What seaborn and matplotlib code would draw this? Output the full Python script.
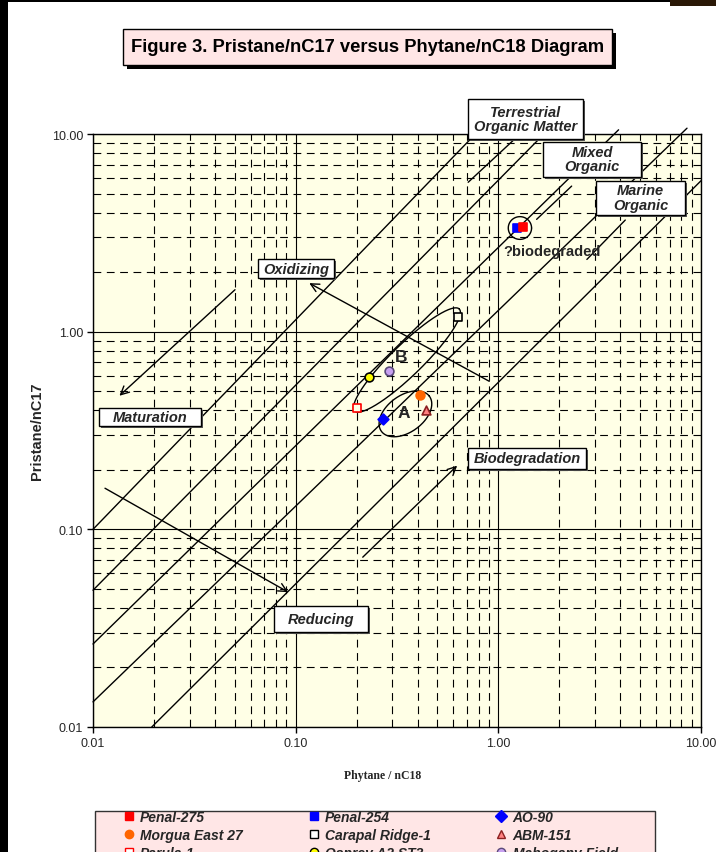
import numpy as np
import pandas as pd
import matplotlib
matplotlib.use('Agg')
import matplotlib.pyplot as plt
from matplotlib.lines import Line2D
from matplotlib.patches import Rectangle
from matplotlib.ticker import LogLocator, FormatStrFormatter, NullFormatter
import seaborn as sns

sns.set_style('white')
plt.rcParams['font.family'] = ['Liberation Sans', 'DejaVu Sans']

BG = '#FFFFE6'
PINK = '#FFE6E6'
W, H = 716, 853

# samples
samples = ['Penal-254', 'Penal-275', 'AO-90', 'Morgua East 27', 'Carapal Ridge-1',
           'ABM-151', 'Parula-1', 'Osprey A2 ST3', 'Mahogany Field']
phytane_nc18 = [1.24, 1.33, 0.27, 0.41, 0.63, 0.44, 0.20, 0.23, 0.29]
pristane_nc17 = [3.35, 3.40, 0.36, 0.48, 1.18, 0.40, 0.41, 0.59, 0.63]
sample_marker = ['s', 's', 'D', 'o', 's', '^', 's', 'o', 'o']
sample_face = ['#0000FF', '#FF0000', '#0000FF', '#FF6600', BG, '#FF8080', BG, '#FFFF00', '#C8A0F0']
sample_edge = ['#0000FF', '#FF0000', '#0000FF', '#FF6600', '#000000', '#8B2020', '#FF0000', '#000000', '#5A4A7A']
legend_order = ['Penal-275', 'Morgua East 27', 'Parula-1',
                'Penal-254', 'Carapal Ridge-1', 'Osprey A2 ST3',
                'AO-90', 'ABM-151', 'Mahogany Field']

# organic-matter boundary lines (start / end in data units)
line_x0 = [0.01, 0.01, 0.01, 0.01, 0.0195, 0.71, 1.545, 2.735]
line_y0 = [0.10, 0.0492, 0.0263, 0.0134, 0.01, 5.7, 3.70, 2.32]
line_x1 = [0.738, 1.607, 3.92, 8.53, 10.0, 1.18, 2.30, 4.23]
line_y1 = [9.55, 9.55, 10.5, 10.7, 5.8, 9.25, 5.45, 3.67]

# process arrows
arrow_x0 = [0.0502, 0.902, 0.01146, 0.2143]
arrow_y0 = [1.63, 0.561, 0.1614, 0.0723]
arrow_x1 = [0.0135, 0.1167, 0.0919, 0.626]
arrow_y1 = [0.474, 1.76, 0.0481, 0.21]

# boxed labels
box_labels = ['Terrestrial\nOrganic Matter', 'Mixed\nOrganic', 'Marine\nOrganic',
              'Oxidizing', 'Maturation', 'Reducing', 'Biodegradation']
box_x = [1.36, 2.91, 5.04, 0.1003, 0.0192, 0.1337, 1.39]
box_y = [11.9, 7.47, 4.77, 2.08, 0.372, 0.035, 0.2286]
box_size = [(115, 40), (98, 35), (89, 34), (76, 19), (102, 18), (94, 26), (118, 21)]

# groupings (centre in data units, semi-axes in decades, tilt in degrees)
group_x = [0.354, 0.348, 1.278]
group_y = [0.719, 0.384, 3.345]
group_a = [0.365, 0.148, 0.0575]
group_b = [0.0775, 0.092, 0.0575]
group_angle = [45, 37.6, 0]

fig = plt.figure(figsize=(W / 100, H / 100), dpi=100)
fig.patch.set_facecolor('white')
ax = fig.add_axes([93 / W, 1 - 728 / H, 608 / W, 593 / H])
ax.set_facecolor(BG)
ax.set_xscale('log')
ax.set_yscale('log')
ax.set_xlim(0.01, 10)
ax.set_ylim(0.01, 10)

ax.xaxis.set_minor_locator(LogLocator(base=10, subs=np.arange(2, 10)))
ax.yaxis.set_minor_locator(LogLocator(base=10, subs=np.arange(2, 10)))
ax.xaxis.set_major_formatter(FormatStrFormatter('%.2f'))
ax.yaxis.set_major_formatter(FormatStrFormatter('%.2f'))
ax.xaxis.set_minor_formatter(NullFormatter())
ax.yaxis.set_minor_formatter(NullFormatter())
ax.grid(which='major', color='black', lw=0.8, ls='-')
ax.grid(which='minor', color='black', lw=0.8, ls=(0, (7, 5)))
ax.set_axisbelow(True)
ax.tick_params(which='major', direction='out', length=4, width=1, color='black',
               labelsize=9, pad=3, left=True, bottom=True)
ax.tick_params(which='minor', length=0)
for s in ax.spines.values():
    s.set_color('black')
    s.set_linewidth(1)

# boundary lines
lines_df = pd.DataFrame({
    'line': np.repeat(np.arange(len(line_x0)), 2),
    'x': np.ravel(np.column_stack([line_x0, line_x1])),
    'y': np.ravel(np.column_stack([line_y0, line_y1])),
})
sns.lineplot(data=lines_df, x='x', y='y', units='line', estimator=None,
             color='black', lw=1, legend=False, ax=ax)
for ln in ax.lines:
    ln.set_clip_on(False)

# arrows
for x0, y0, x1, y1 in zip(arrow_x0, arrow_y0, arrow_x1, arrow_y1):
    ax.annotate('', xy=(x1, y1), xytext=(x0, y0),
                arrowprops=dict(arrowstyle='->', lw=1, color='black',
                                mutation_scale=15, shrinkA=0, shrinkB=0))

# group outlines
t = np.linspace(0, 2 * np.pi, 200)
for cx, cy, a, b, ang in zip(group_x, group_y, group_a, group_b, group_angle):
    th = np.deg2rad(ang)
    u, v = a * np.cos(t), b * np.sin(t)
    lx = np.log10(cx) + u * np.cos(th) - v * np.sin(th)
    ly = np.log10(cy) + u * np.sin(th) + v * np.cos(th)
    ax.plot(10 ** lx, 10 ** ly, color='black', lw=1)

# samples
pts = pd.DataFrame({'sample': samples, 'x': phytane_nc18, 'y': pristane_nc17})
for i, row in pts.iterrows():
    sns.scatterplot(x=[row['x']], y=[row['y']], marker=sample_marker[i],
                    color=sample_face[i], edgecolor=sample_edge[i],
                    linewidth=1.2, s=40 if sample_marker[i] != 'D' else 30,
                    zorder=5, ax=ax, legend=False)

ax.text(0.34, 0.391, 'A', fontsize=12.5, fontweight='bold', ha='center', va='center', zorder=6)
ax.text(0.333, 0.751, 'B', fontsize=12.5, fontweight='bold', ha='center', va='center', zorder=6)
ax.text(1.83, 2.57, '?biodegraded', fontsize=10.5, fontweight='bold', ha='center', va='center', zorder=6)


def boxed(cx, cy, w, h, fc, shadow, off):
    fig.patches.append(Rectangle(((cx - w / 2 + off) / W, (cy - h / 2 - off) / H), w / W, h / H,
                                 transform=fig.transFigure, fc=shadow, ec='none', zorder=2))
    fig.patches.append(Rectangle(((cx - w / 2) / W, (cy - h / 2) / H), w / W, h / H,
                                 transform=fig.transFigure, fc=fc, ec='black', lw=1, zorder=3))


for lab, x, y, (bw, bh) in zip(box_labels, box_x, box_y, box_size):
    cx, cy = ax.transData.transform((x, y))
    boxed(cx, cy, bw, bh, 'white', '#555555', 2)
    fig.text(cx / W, cy / H, lab, fontsize=10.5, fontweight='bold', fontstyle='italic',
             ha='center', va='center', linespacing=1.05, zorder=4)

ax.set_ylabel('Pristane/nC17', fontsize=10.5, fontweight='bold')
ax.yaxis.set_label_coords(-0.081, 0.5)
ax.set_xlabel('Phytane / nC18', fontsize=8.5, fontweight='bold',
              family=['Liberation Serif', 'DejaVu Serif'])
ax.xaxis.set_label_coords(0.477, -0.071)

# title
boxed(367.5, H - 48, 489, 36, PINK, 'black', 4)
fig.text(367.5 / W, 1 - 48 / H, 'Figure 3. Pristane/nC17 versus Phytane/nC18 Diagram',
         ha='center', va='center', fontsize=13.2, fontweight='bold', color='black', zorder=4)

# legend
fig.patches.append(Rectangle((95 / W, -10 / H), 560 / W, (H - 812 + 10) / H,
                             transform=fig.transFigure, fc=PINK, ec='#333333', lw=1, zorder=2))
handles = []
for name in legend_order:
    i = samples.index(name)
    handles.append(Line2D([], [], marker=sample_marker[i], linestyle='none',
                          markerfacecolor=sample_face[i] if sample_face[i] != BG else 'white',
                          markeredgecolor=sample_edge[i], markersize=6, label=name))
leg = fig.legend(handles=handles, loc='upper left', ncol=3,
                 bbox_to_anchor=(122 / W, 1 - 811 / H),
                 prop={'weight': 'bold', 'style': 'italic', 'size': 10},
                 frameon=False, handlelength=1, handletextpad=0.3,
                 columnspacing=4.6, labelspacing=0.3, borderpad=0, borderaxespad=0)

fig.patches.append(Rectangle((0, 0), 8 / W, 1, transform=fig.transFigure,
                             fc='black', ec='none', zorder=10))
fig.patches.append(Rectangle((0, 1 - 3 / H), 1, 3 / H, transform=fig.transFigure,
                             fc='black', ec='none', zorder=10))
fig.patches.append(Rectangle((670 / W, 1 - 7 / H), 46 / W, 7 / H, transform=fig.transFigure,
                             fc='#2a1806', ec='none', zorder=10))

fig.savefig('out.png', dpi=100)
